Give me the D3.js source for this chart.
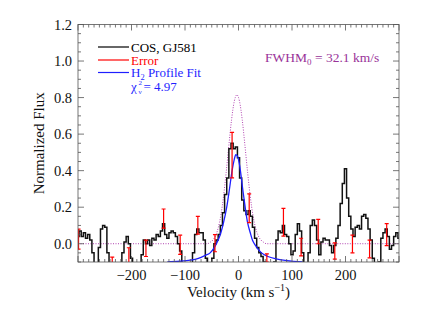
<!DOCTYPE html>
<html>
<head>
<meta charset="utf-8">
<script src="https://cdn.jsdelivr.net/npm/d3@7"></script>
<style>
  body { margin: 0; background: #fff; }
  svg { display: block; font-family: "Liberation Serif", "DejaVu Serif", serif; }
</style>
</head>
<body>
<div id="chart"></div>
<script>
// observed spectrum, 4 km/s bins starting at -300 km/s
const binStart = -300;
const binWidth = 4;
const flux = [
  0.04, 0.07, 0.04, 0.06, 0.03, 0.05, 0.02, -0.05, -0.12, -0.15,
  -0.02, 0.08, 0.10, 0.09, -0.05, -0.15, -0.15, -0.15, -0.15, -0.15,
  -0.12, -0.05, 0.01, 0.04, 0.00, -0.08, -0.15, -0.15, -0.15, -0.15,
  -0.06, 0.02, 0.00, 0.02, -0.01, 0.03, 0.02, 0.05, 0.04, 0.07,
  0.11, 0.05, 0.03, 0.06, 0.07, 0.06, 0.04, 0.00, -0.04, -0.12,
  -0.15, -0.15, -0.15, -0.15, -0.05, 0.05, 0.08, 0.06, 0.06, 0.02,
  -0.08, -0.15, -0.15, -0.08, 0.00, 0.02, 0.05, 0.10, 0.17, 0.27,
  0.36, 0.52, 0.55, 0.52, 0.53, 0.47, 0.36, 0.24, 0.18, 0.16,
  0.18, 0.15, 0.09, 0.03, -0.02, -0.05, -0.07, -0.10, -0.15, -0.15,
  -0.15, -0.15, -0.10, 0.02, 0.07, 0.06, 0.10, 0.05, 0.04, 0.00,
  -0.06, -0.04, 0.05, 0.11, 0.07, -0.05, -0.15, -0.15, -0.05, 0.10,
  0.13, 0.10, 0.02, -0.06, 0.01, 0.03, 0.02, 0.02, -0.01, -0.05,
  -0.01, 0.03, 0.10, 0.22, 0.33, 0.41, 0.25, 0.15, 0.08, 0.04,
  0.09, 0.10, 0.08, 0.15, 0.16, 0.14, 0.08, 0.02, -0.08, -0.15,
  -0.15, -0.10, 0.03, 0.06, 0.08, 0.04, -0.03, -0.01, 0.04, 0.06,
  0.03
];

// error bars: velocity, low, high
const errVel = [-299, -236, -205, -173, -140, -109, -76, -44, -12, 20, 53, 84, 117, 149, 180, 213, 245, 277];
const errLow = [-0.03, -0.17, -0.12, -0.07, 0.085, -0.058, 0.053, -0.044, 0.36, 0.115, -0.10, 0.042, -0.067, 0.0, -0.084, -0.05, -0.077, -0.01];
const errHigh = [0.08, -0.073, -0.022, 0.02, 0.19, 0.047, 0.15, 0.05, 0.61, 0.273, -0.055, 0.193, 0.03, 0.133, 0.005, 0.047, 0.02, 0.11];

// H2 profile fit
const fitVel = [-133, -110, -90, -75, -63, -53, -45, -38, -33, -28, -22, -17, -12, -8, -5, -2, 2, 8, 12, 17, 22, 26, 32, 38, 43, 55, 70, 90, 120];
const fitFlux = [-0.099, -0.096, -0.09, -0.08, -0.065, -0.05, -0.02, 0.02, 0.06, 0.115, 0.2, 0.297, 0.4, 0.46, 0.488, 0.48, 0.43, 0.297, 0.21, 0.115, 0.06, 0.02, -0.01, -0.035, -0.05, -0.07, -0.083, -0.092, -0.099];

// intrinsic profile (dotted)
const intrVel = [-300, -58, -53, -48, -43, -38, -33, -28, -23, -18, -13, -8, -3, 2, 7, 12, 17, 22, 27, 32, 37, 42, 47, 52, 300];
const intrFlux = [0, 0, 0.008, 0.02, 0.043, 0.086, 0.156, 0.259, 0.391, 0.539, 0.678, 0.778, 0.815, 0.778, 0.678, 0.539, 0.391, 0.259, 0.156, 0.086, 0.043, 0.02, 0.008, 0, 0];

const xTicks = [-200, -100, 0, 100, 200];
const yTicks = [0.0, 0.2, 0.4, 0.6, 0.8, 1.0, 1.2];

const width = 423;
const height = 312;
const margin = { top: 24.5, right: 24, bottom: 50, left: 78 };

const x = d3.scaleLinear().domain([-300, 300]).range([margin.left, width - margin.right]);
const y = d3.scaleLinear().domain([-0.1, 1.2]).range([height - margin.bottom, margin.top]);

const svg = d3.select("#chart")
  .append("svg")
  .attr("width", width)
  .attr("height", height);

svg.append("clipPath")
  .attr("id", "plot-clip")
  .append("rect")
  .attr("x", x.range()[0])
  .attr("y", y.range()[1])
  .attr("width", x.range()[1] - x.range()[0])
  .attr("height", y.range()[0] - y.range()[1]);

const plot = svg.append("g").attr("clip-path", "url(#plot-clip)");

const spec = flux.map((f, i) => ({ v: binStart + i * binWidth, f }));

// dotted intrinsic line
plot.append("path")
  .datum(intrVel.map((v, i) => ({ v, f: intrFlux[i] })))
  .attr("fill", "none")
  .attr("stroke", "#b040b0")
  .attr("stroke-width", 1)
  .attr("stroke-dasharray", "1,1.5")
  .attr("d", d3.line().x((d) => x(d.v)).y((d) => y(d.f)).curve(d3.curveMonotoneX));

// spectrum histogram
plot.append("path")
  .datum(spec)
  .attr("fill", "none")
  .attr("stroke", "#111")
  .attr("stroke-width", 1.5)
  .attr("d", d3.line().x((d) => x(d.v)).y((d) => y(d.f)).curve(d3.curveStep));

// fit
plot.append("path")
  .datum(fitVel.map((v, i) => ({ v, f: fitFlux[i] })))
  .attr("fill", "none")
  .attr("stroke", "#1f1fff")
  .attr("stroke-width", 1.3)
  .attr("d", d3.line().x((d) => x(d.v)).y((d) => y(d.f)).curve(d3.curveMonotoneX));

// error bars
const errs = errVel.map((v, i) => ({ v, lo: errLow[i], hi: errHigh[i] }));
const eg = plot.append("g").attr("stroke", "#ff0000").attr("stroke-width", 1.2);
errs.forEach((d) => {
  const cx = x(d.v);
  eg.append("line").attr("x1", cx).attr("x2", cx).attr("y1", y(d.lo)).attr("y2", y(d.hi));
  eg.append("line").attr("x1", cx - 2).attr("x2", cx + 2).attr("y1", y(d.lo)).attr("y2", y(d.lo));
  eg.append("line").attr("x1", cx - 2).attr("x2", cx + 2).attr("y1", y(d.hi)).attr("y2", y(d.hi));
});

// frame with inward ticks on all sides
const frame = svg.append("g").attr("stroke", "#555").attr("stroke-width", 0.8).attr("fill", "none");
frame.append("rect")
  .attr("x", x.range()[0])
  .attr("y", y.range()[1])
  .attr("width", x.range()[1] - x.range()[0])
  .attr("height", y.range()[0] - y.range()[1]);

const x0 = x.range()[0], x1 = x.range()[1];
const yb = y.range()[0], yt = y.range()[1];

d3.range(-300, 301, 10).forEach((v) => {
  const len = v % 100 === 0 ? 6 : 3;
  frame.append("line").attr("x1", x(v)).attr("x2", x(v)).attr("y1", yb).attr("y2", yb - len);
  frame.append("line").attr("x1", x(v)).attr("x2", x(v)).attr("y1", yt).attr("y2", yt + len);
});
d3.range(-2, 25).map((k) => k * 0.05).forEach((f) => {
  const major = Math.abs(Math.round(f * 10) / 10 - f) < 1e-6 && Math.round(f * 10) % 2 === 0;
  const len = major ? 6 : 3;
  frame.append("line").attr("x1", x0).attr("x2", x0 + len).attr("y1", y(f)).attr("y2", y(f));
  frame.append("line").attr("x1", x1).attr("x2", x1 - len).attr("y1", y(f)).attr("y2", y(f));
});

// tick labels
svg.append("g")
  .selectAll("text")
  .data(yTicks)
  .join("text")
  .attr("x", x0 - 6)
  .attr("y", (d) => y(d) + 5)
  .attr("text-anchor", "end")
  .attr("font-size", 14.5)
  .attr("fill", "#111")
  .text((d) => d.toFixed(1));

svg.append("g")
  .selectAll("text")
  .data(xTicks)
  .join("text")
  .attr("x", (d) => x(d))
  .attr("y", yb + 18)
  .attr("text-anchor", "middle")
  .attr("font-size", 14.5)
  .attr("fill", "#111")
  .text((d) => (d < 0 ? "\u2212" + Math.abs(d) : d));

// axis titles
svg.append("text")
  .attr("transform", `translate(44, ${(yt + yb) / 2}) rotate(-90)`)
  .attr("text-anchor", "middle")
  .attr("font-size", 15)
  .attr("fill", "#111")
  .text("Normalized Flux");

const xt = svg.append("text")
  .attr("x", (x0 + x1) / 2)
  .attr("y", 297)
  .attr("text-anchor", "middle")
  .attr("font-size", 15)
  .attr("fill", "#111");
xt.append("tspan").text("Velocity (km s");
xt.append("tspan").attr("dy", -6).attr("font-size", 10).text("\u22121");
xt.append("tspan").attr("dy", 6).text(")");

// legend
const legend = [
  { color: "#000", y: 47 },
  { color: "#ff0000", y: 60 },
  { color: "#1f1fff", y: 72.5 },
];
legend.forEach((d) => {
  svg.append("line")
    .attr("x1", 98).attr("x2", 129)
    .attr("y1", d.y).attr("y2", d.y)
    .attr("stroke", d.color)
    .attr("stroke-width", 1.2);
});

svg.append("text").attr("x", 131).attr("y", 51.5).attr("font-size", 13).attr("fill", "#000").text("COS, GJ581");
svg.append("text").attr("x", 131).attr("y", 64.5).attr("font-size", 13).attr("fill", "#ff0000").text("Error");

const h2 = svg.append("text").attr("x", 131).attr("y", 77).attr("font-size", 13).attr("fill", "#1f1fff");
h2.append("tspan").text("H");
h2.append("tspan").attr("dy", 2.5).attr("font-size", 8.5).text("2");
h2.append("tspan").attr("dy", -2.5).text(" Profile Fit");

// chi-squared label, superscript and subscript stacked
svg.append("text").attr("x", 131).attr("y", 90.5).attr("font-size", 13).attr("fill", "#1f1fff").text("\u03c7");
svg.append("text").attr("x", 138.5).attr("y", 84.5).attr("font-size", 7).attr("fill", "#1f1fff").text("2");
svg.append("text").attr("x", 138.5).attr("y", 94).attr("font-size", 7).attr("fill", "#1f1fff").text("\u03bd");
svg.append("text").attr("x", 143.5).attr("y", 90.5).attr("font-size", 13).attr("fill", "#1f1fff").text("= 4.97");

const fw = svg.append("text").attr("x", 265).attr("y", 62).attr("font-size", 13.5).attr("fill", "#993399");
fw.append("tspan").text("FWHM");
fw.append("tspan").attr("dy", 3).attr("font-size", 9).text("0");
fw.append("tspan").attr("dy", -3).text(" = 32.1 km/s");
</script>
</body>
</html>
